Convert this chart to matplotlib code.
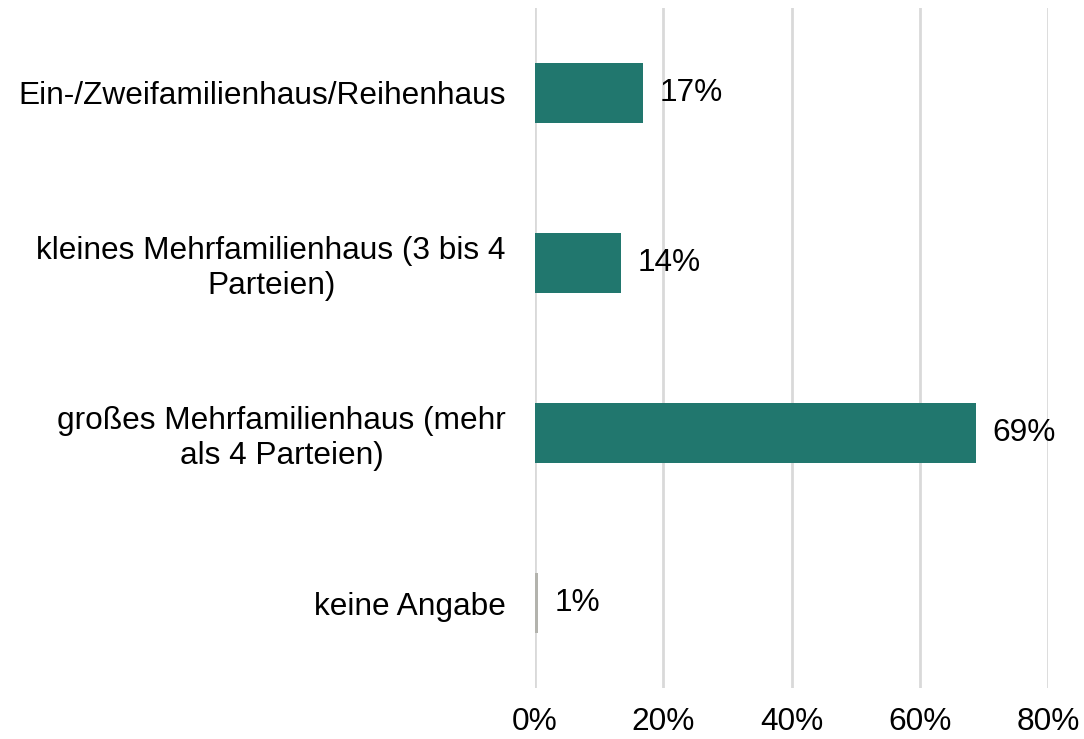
import matplotlib.pyplot as plt

plt.rcParams['font.family'] = ['Liberation Sans', 'DejaVu Sans']

categories = ['Ein-/Zweifamilienhaus/Reihenhaus',
              'kleines Mehrfamilienhaus (3 bis 4\nParteien)',
              'großes Mehrfamilienhaus (mehr\nals 4 Parteien)',
              'keine Angabe']
values = [16.9, 13.4, 68.8, 0.5]
labels = ['17%', '14%', '69%', '1%']
colors = ['#21776E', '#21776E', '#21776E', '#B3B3AD']
x_ticks = [0, 20, 40, 60, 80]

FS = 22.8

fig = plt.figure(figsize=(10.84, 7.39), dpi=100)
ax = fig.add_axes([535 / 1084, 1 - 688 / 739, 513 / 1084, 680 / 739])

y = list(range(len(categories)))
ax.barh(y, values, height=0.353, color=colors, zorder=3)
ax.set_ylim(len(categories) - 0.5, -0.5)
ax.set_xlim(0, 80)

for yi, v, lab in zip(y, values, labels):
    ax.text(v + 2.6, yi, lab, va='center', ha='left', fontsize=FS, zorder=4)

ax.set_yticks(y)
ax.set_yticklabels(categories, fontsize=FS, multialignment='center')
ax.tick_params(axis='y', length=0, pad=21)

ax.set_xticks(x_ticks)
ax.set_xticklabels([f'{t}%' for t in x_ticks], fontsize=FS)
ax.tick_params(axis='x', length=0, pad=14)

ax.grid(axis='x', color='#D9D9D9', linewidth=2, zorder=0)
for s in ax.spines.values():
    s.set_visible(False)

fig.savefig('out.png', dpi=100)
